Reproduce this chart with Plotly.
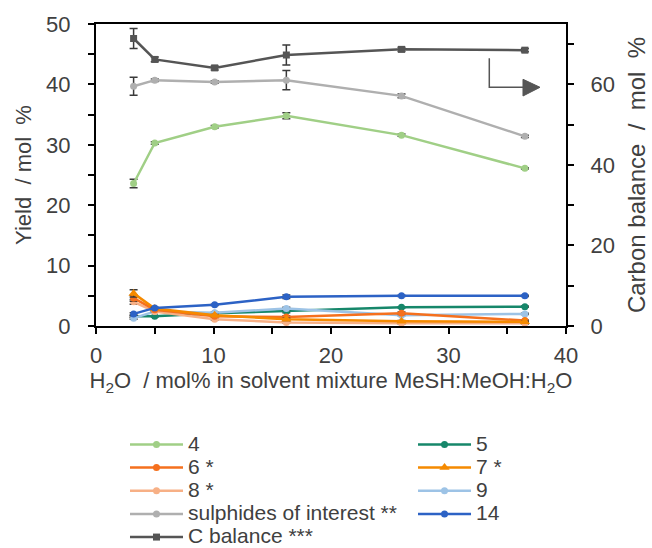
import plotly.graph_objects as go

# ---- data ----
x_h2o = [3.2, 5.0, 10.1, 16.2, 26.0, 36.5]

y4 = [23.6, 30.3, 33.0, 34.8, 31.6, 26.1]
e4 = [0.7, 0.2, 0.2, 0.5, 0.2, 0.1]
y5 = [1.6, 1.6, 2.1, 2.5, 3.1, 3.2]
e5 = [0.2, 0.1, 0.1, 0.3, 0.1, 0.1]
y6 = [4.6, 2.7, 1.6, 1.5, 2.1, 0.9]
e6 = [0.5, 0.1, 0.1, 0.2, 0.2, 0.1]
y7 = [5.4, 2.9, 1.8, 1.1, 0.8, 0.7]
e7 = [0.6, 0.1, 0.1, 0.2, 0.1, 0.1]
y8 = [4.0, 2.4, 1.1, 0.6, 0.45, 0.45]
e8 = [0.4, 0.1, 0.1, 0.1, 0.1, 0.1]
y9 = [1.3, 2.4, 2.2, 2.9, 1.8, 2.0]
e9 = [0.2, 0.1, 0.1, 0.2, 0.1, 0.1]
y14 = [2.0, 3.0, 3.5, 4.85, 5.0, 5.0]
e14 = [0.2, 0.1, 0.1, 0.3, 0.1, 0.1]
y_sulph = [39.7, 40.7, 40.4, 40.7, 38.1, 31.4]
e_sulph = [1.5, 0.2, 0.2, 1.6, 0.3, 0.2]
y_cbal = [71.4, 66.2, 64.1, 67.3, 68.7, 68.5]
e_cbal = [2.5, 0.6, 0.5, 2.5, 0.5, 0.4]

names = ["4", "5", "6 *", "7 *", "8 *", "9", "sulphides of interest **", "14", "C balance ***"]

FONT = "Arial, Liberation Sans, sans-serif"
TXT = "#404040"
ERR = "#3a3a3a"

fig = go.Figure()

def add(y, e, name, color, legend, rank, symbol="circle", size=7, yaxis="y"):
    fig.add_trace(go.Scatter(
        x=x_h2o, y=y, name='<span style="font-size:21px">%s</span>' % name,
        mode="lines+markers", yaxis=yaxis, legend=legend, legendrank=rank,
        line=dict(color=color, width=2.5),
        marker=dict(color=color, size=size, symbol=symbol),
        error_y=dict(type="data", array=e, visible=True, color=ERR, thickness=1.5, width=4),
    ))

add(y4, e4, names[0], "#A0CF86", "legend", 1)
add(y5, e5, names[1], "#16876A", "legend2", 1)
add(y9, e9, names[5], "#9DC3E6", "legend2", 3)
add(y8, e8, names[4], "#F7B086", "legend", 3)
add(y6, e6, names[2], "#F5701E", "legend", 2)
add(y7, e7, names[3], "#F58A00", "legend2", 2, symbol="triangle-up", size=9)
add(y14, e14, names[7], "#2C62C5", "legend2", 4)
add(y_sulph, e_sulph, names[6], "#AFAFAF", "legend", 4)
add(y_cbal, e_cbal, names[8], "#555555", "legend", 5, symbol="square", size=7, yaxis="y2")

axis_common = dict(
    showline=True, linecolor="black", linewidth=2,
    ticks="outside", ticklen=6, tickwidth=1.5, tickcolor="black",
    tickfont=dict(family=FONT, size=22, color=TXT),
    showgrid=False, zeroline=False,
)
minor_common = dict(ticks="outside", ticklen=6, tickwidth=1.5, tickcolor="black")

fig.update_layout(
    width=652, height=548,
    margin=dict(l=96, r=86, t=24, b=222, autoexpand=False),
    paper_bgcolor="white", plot_bgcolor="white",
    font=dict(family=FONT, color=TXT),
    xaxis=dict(
        range=[0, 40], dtick=10, mirror=True,
        minor=dict(dtick=5, **minor_common),
        ticklabelstandoff=3,
        title=dict(text="H<sub>2</sub>O\u00a0 / mol% in solvent mixture MeSH:MeOH:H<sub>2</sub>O",
                   font=dict(family=FONT, size=22, color=TXT), standoff=4),
        **axis_common,
    ),
    yaxis=dict(
        range=[0, 50], dtick=10,
        minor=dict(dtick=5, **minor_common),
        ticklabelstandoff=13,
        title=dict(text="Yield\u00a0 / mol\u00a0 %", font=dict(family=FONT, size=22, color=TXT), standoff=8),
        **axis_common,
    ),
    yaxis2=dict(
        range=[0, 75], dtick=20, overlaying="y", side="right",
        minor=dict(dtick=10, **minor_common),
        ticklabelstandoff=12,
        title=dict(text="Carbon balance\u00a0 /\u00a0 mol\u00a0 %", font=dict(family=FONT, size=24, color=TXT), standoff=14),
        **axis_common,
    ),
    legend=dict(x=0.0617, y=-0.3374, xanchor="left", yanchor="top", orientation="v",
                font=dict(family=FONT, size=15.5, color=TXT), itemwidth=53,
                bgcolor="rgba(0,0,0,0)", tracegroupgap=0),
    legend2=dict(x=0.6745, y=-0.3374, xanchor="left", yanchor="top", orientation="v",
                 font=dict(family=FONT, size=15.5, color=TXT), itemwidth=53,
                 bgcolor="rgba(0,0,0,0)", tracegroupgap=0),
    shapes=[
        dict(type="path", xref="paper", yref="paper",
             path="M 0.8368,0.8864 L 0.8368,0.7904 L 0.9085,0.7904",
             line=dict(color="#555555", width=1.5)),
        dict(type="path", xref="paper", yref="paper",
             path="M 0.9085,0.8169 L 0.9447,0.7904 L 0.9085,0.7616 Z",
             fillcolor="#555555", line=dict(color="#555555", width=1)),
    ],
)

fig.write_html("out.html")
